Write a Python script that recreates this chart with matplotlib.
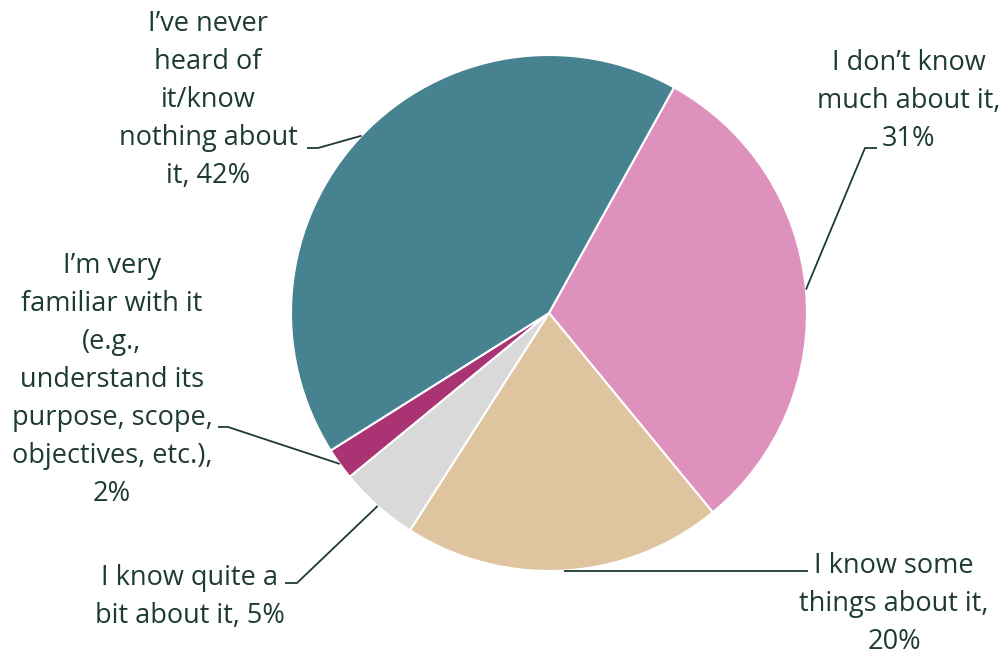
import numpy as np
import matplotlib.pyplot as plt

plt.rcParams['font.family'] = ['Open Sans', 'DejaVu Sans']

# survey answers, in the order the slices run clockwise from the top
labels = [
    "I don\u2019t know\nmuch about it,\n31%",
    "I know some\nthings about it,\n20%",
    "I know quite a\nbit about it, 5%",
    "I\u2019m very\nfamiliar with it\n(e.g.,\nunderstand its\npurpose, scope,\nobjectives, etc.),\n2%",
    "I\u2019ve never\nheard of\nit/know\nnothing about\nit, 42%",
]
shares = [31, 20, 5, 2, 42]
colors = ['#DF91BD', '#DFC59F', '#D9D9D9', '#A93373', '#468290']

text_color = '#1D3A33'
H = 655

# label centre, knee of the leader line, and where the leader stops next to the text
label_pos = [(909, 101), (894, 604), (190, 597), (112, 380), (208, 100)]
knees = [(865, 148), (808, None), (297, 583), (228, 427), (318, 148)]
tails = [877, 808, 285, 218, 307]

fig = plt.figure(figsize=(10.06, 6.55), dpi=100)
ax = fig.add_axes([0, 0, 1, 1])

cx, cy, r = 549, H - 313, 258
wedges, _ = ax.pie(shares, colors=colors, startangle=61, counterclock=False,
                   center=(cx, cy), radius=r,
                   wedgeprops=dict(edgecolor='white', linewidth=1.5))

for w, lab, (lx, ly), (kx, ky), tx in zip(wedges, labels, label_pos, knees, tails):
    mid = np.deg2rad((w.theta1 + w.theta2) / 2)
    ex = cx + r * np.cos(mid)
    ey = cy + r * np.sin(mid)
    if ky is None:
        ky_d = ey
    else:
        ky_d = H - ky
    ax.plot([ex, kx, tx], [ey, ky_d, ky_d], color=text_color, lw=1.3,
            solid_capstyle='butt')
    ax.text(lx, H - ly, lab, ha='center', va='center', fontsize=19.5,
            color=text_color, linespacing=1.48)

ax.set_xlim(0, 1006)
ax.set_ylim(0, H)
ax.set_aspect('auto')
ax.axis('off')

fig.savefig('out.png', dpi=100)
